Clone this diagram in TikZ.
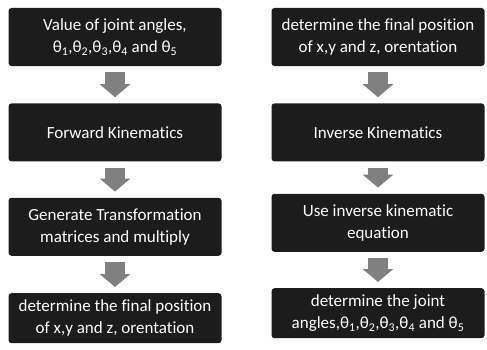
\documentclass[tikz,border=0pt]{standalone}
\usepackage{fontspec}
\setmainfont{Carlito}[Ligatures=NoCommon]
\usetikzlibrary{positioning, arrows.meta}
\definecolor{boxfill}{HTML}{1C1C1C}
\definecolor{arrowfill}{HTML}{808080}
\newcommand{\boxfont}{\fontsize{17}{22}\selectfont}
\newcommand{\jang}[1]{θ\textsubscript{#1}}
\tikzset{
  stepbox/.style={
    fill=boxfill,
    rounded corners=3pt,
    align=center,
    text=white,
    inner sep=2pt,
    minimum width=213pt,
    minimum height=58pt,
    font=\boxfont
  },
  lastbox/.style={stepbox, minimum height=50pt},
  fatarr/.style={-{Triangle[length=13pt, width=30pt]}, line width=20pt, draw=arrowfill,
    shorten >=6pt, shorten <=6pt}
}

\begin{document}
\begin{tikzpicture}
  \useasboundingbox (0pt,0pt) rectangle (487pt,349pt);

  % forward kinematics, left column
  \node[stepbox] (fw1) at (115pt,312pt) {Value of joint angles,\\
    \jang{1},\jang{2},\jang{3},\jang{4} and \jang{5}};
  \node[stepbox, below=37pt of fw1] (fw2) {Forward Kinematics};
  \node[stepbox, below=36pt of fw2] (fw3) {Generate Transformation\\matrices and multiply};
  \node[lastbox, below=37pt of fw3] (fw4) {determine the final position\\of x,y and z, orentation};

  % inverse kinematics, right column
  \node[stepbox] (iv1) at (378pt,312pt) {determine the final position\\of x,y and z, orentation};
  \node[stepbox, below=37pt of iv1] (iv2) {Inverse Kinematics};
  \node[stepbox, below=32pt of iv2] (iv3) {Use inverse kinematic\\equation};
  \node[lastbox, below=36pt of iv3] (iv4) {determine the joint\\
    angles,\jang{1},\jang{2},\jang{3},\jang{4} and \jang{5}};

  \foreach \a/\b in {fw1/fw2, fw2/fw3, fw3/fw4, iv1/iv2, iv2/iv3, iv3/iv4}
    \draw[fatarr] (\a.south) -- (\b.north);

\end{tikzpicture}
\end{document}
